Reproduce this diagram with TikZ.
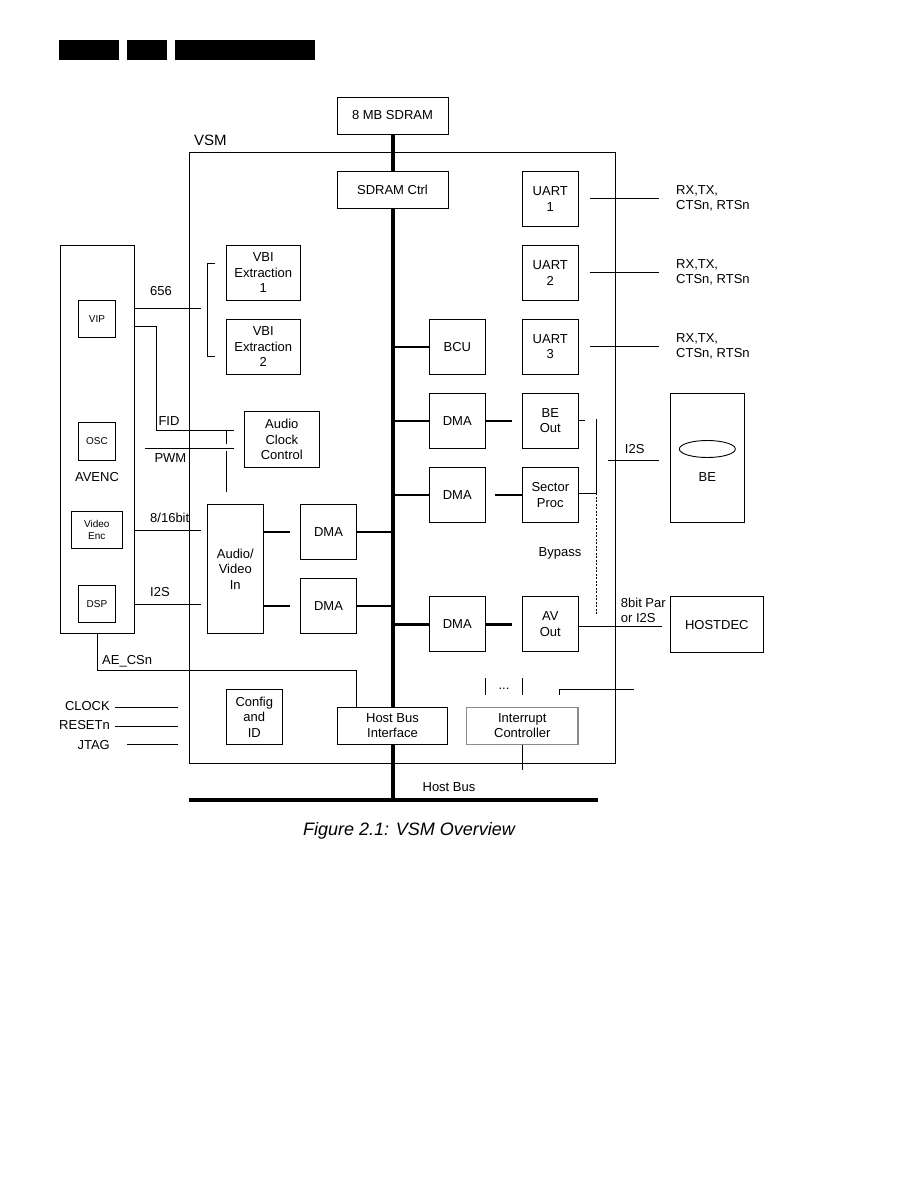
\documentclass[tikz,border=0pt]{standalone}
\usepackage{fontspec}
\setmainfont{Liberation Sans}
\usetikzlibrary{calc}
\newcommand\mainfs{\fontsize{13}{15.5}\selectfont}
\newcommand\smallfs{\fontsize{10}{12}\selectfont}
\begin{document}
\begin{tikzpicture}[x=1pt,y=-1pt,
  blk/.style={draw, line width=0.9pt, inner sep=0pt, align=center, font=\mainfs},
  sblk/.style={blk, font=\smallfs},
  lbl/.style={inner sep=0pt, align=left, font=\mainfs},
  wire/.style={line width=0.9pt},
  stub/.style={line width=2.5pt},
  bus/.style={line width=4pt, line cap=butt}]
\useasboundingbox (0,0) rectangle (918,1188);
% header bars
\fill (59,40) rectangle (119,59.7);
\fill (126.7,40) rectangle (166.7,59.7);
\fill (175,40) rectangle (315,59.7);
% VSM
\node[blk, minimum width=426, minimum height=611.3] (vsm) at (402.3,457.65) {};
\node[lbl, anchor=west, font=\fontsize{15}{18}\selectfont] (vsml) at (194,140) {VSM};
% boxes
\node[blk, minimum width=111, minimum height=37] (sdram) at (392.5,115.5) {8 MB SDRAM};
\node[blk, minimum width=111, minimum height=37] (sdctrl) at (392.5,189.5) {SDRAM Ctrl};
\node[blk, minimum width=56, minimum height=55] (uart1) at (550.3,198.8) {UART\\1};
\node[blk, minimum width=56, minimum height=55] (uart2) at (550.3,272.8) {UART\\2};
\node[blk, minimum width=56, minimum height=55] (uart3) at (550.3,346.8) {UART\\3};
\node[blk, minimum width=74, minimum height=55] (vbi1) at (263.3,272.8) {VBI\\Extraction\\1};
\node[blk, minimum width=74, minimum height=55] (vbi2) at (263.3,346.8) {VBI\\Extraction\\2};
\node[blk, minimum width=56, minimum height=55] (bcu) at (457.3,346.8) {BCU};
\node[blk, minimum width=74, minimum height=388] (avenc) at (97.7,439.3) {};
\node[sblk, minimum width=37.4, minimum height=37] (vip) at (97,318.8) {VIP};
\node[sblk, minimum width=37.4, minimum height=38] (osc) at (97,441.3) {OSC};
\node[font=\mainfs, inner sep=0pt] (avencl) at (97,477.3) {AVENC};
\node[sblk, minimum width=51, minimum height=37] (venc) at (96.8,529.8) {Video\\Enc};
\node[sblk, minimum width=37.4, minimum height=37.4] (dsp) at (97,604) {DSP};
\node[blk, minimum width=75, minimum height=55.6] (acc) at (281.8,439.5) {Audio\\Clock\\Control};
\node[blk, minimum width=56, minimum height=129] (avin) at (235.3,568.8) {Audio/\\Video\\In};
\node[blk, minimum width=56.4, minimum height=55] (dmal1) at (328.5,531.8) {DMA};
\node[blk, minimum width=56.4, minimum height=55] (dmal2) at (328.5,605.8) {DMA};
\node[blk, minimum width=56, minimum height=55] (dmar1) at (457.3,420.8) {DMA};
\node[blk, minimum width=56, minimum height=55] (beout) at (550.3,420.8) {BE\\Out};
\node[blk, minimum width=56, minimum height=55] (dmar2) at (457.3,494.8) {DMA};
\node[blk, minimum width=56, minimum height=55] (secproc) at (550.3,494.8) {Sector\\Proc};
\node[blk, minimum width=56, minimum height=55.4] (dmar3) at (457.3,624) {DMA};
\node[blk, minimum width=56, minimum height=55.4] (avout) at (550.3,624) {AV\\Out};
\node[blk, minimum width=74, minimum height=129] (be) at (707.3,457.8) {};
\draw[wire] (707.3,449) ellipse [x radius=28, y radius=8.5];
\node[font=\mainfs, inner sep=0pt] (bel) at (707.3,476.7) {BE};
\node[blk, minimum width=93, minimum height=56] (hostdec) at (716.8,624.7) {HOSTDEC};
\node[blk, minimum width=56, minimum height=55] (config) at (254.3,716.8) {Config\\and\\ID};
\node[blk, minimum width=110.6, minimum height=37] (hbi) at (392.5,725.8) {Host Bus\\Interface};
\node[blk, draw=black!45, line width=1.3pt, minimum width=111.3, minimum height=37] (intc) at (522.3,725.8) {Interrupt\\Controller};
% main bus
\coordinate (hbl) at (188.5,800);
\coordinate (hbr) at (597.6,800);
\draw[bus] (hbl) -- (hbr);
\draw[bus] (sdram.south) -- (sdctrl.north);
\draw[bus] (sdctrl.south) -- (hbi.north);
\draw[bus] (hbi.south) -- (hbi.south |- hbl);
\node[font=\mainfs, inner sep=0pt] (hbuslbl) at (449,786.7) {Host Bus};
% bus stubs
\draw[stub] (sdctrl.south |- bcu.west) -- (bcu.west);
\draw[stub] (sdctrl.south |- dmar1.west) -- (dmar1.west);
\draw[stub] (sdctrl.south |- dmar2.west) -- (dmar2.west);
\draw[stub, line width=3pt] (sdctrl.south |- dmar3.west) -- (dmar3.west);
\draw[stub] (dmal1.east) -- (dmal1.east -| sdctrl.south);
\draw[stub] (dmal2.east) -- (dmal2.east -| sdctrl.south);
\draw[stub, shorten >=9.6pt] (dmar1.east) -- (beout.west);
\draw[stub, shorten <=9.7pt] (dmar2.east) -- (secproc.west);
\draw[stub, line width=3pt, shorten >=9.6pt] (dmar3.east) -- (avout.west);
\draw[stub, shorten >=9.6pt] (avin.east |- dmal1.west) -- (dmal1.west);
\draw[stub, shorten >=9.6pt] (avin.east |- dmal2.west) -- (dmal2.west);
% UART lines
\draw[wire, shorten <=11pt] (uart1.east) -- ++(80,0) coordinate (u1e);
\draw[wire, shorten <=11pt] (uart2.east) -- ++(80,0) coordinate (u2e);
\draw[wire, shorten <=11pt] (uart3.east) -- ++(80,0) coordinate (u3e);
\node[lbl, anchor=west] (rx1) at (676,198.5) {RX,TX,\\CTSn, RTSn};
\node[lbl, anchor=west] (rx2) at (676,272.5) {RX,TX,\\CTSn, RTSn};
\node[lbl, anchor=west] (rx3) at (676,346.5) {RX,TX,\\CTSn, RTSn};
% VBI bracket and 656
\coordinate (b656) at (201,308.7);
\draw[wire] (avenc.east |- b656) -- (b656);
\draw[wire] (214.7,263.3) -- (207.3,263.3) -- (207.3,356.3) -- (214.7,356.3);
\node[lbl, anchor=west] (l656) at (150,290.7) {656};
% FID / PWM
\coordinate (fidc) at (234,430.7);
\coordinate (pwmc) at (234,448.3);
\draw[wire] (avenc.east |- 0,326.7) -- (156.3,326.7) |- (fidc);
\draw[wire] (145,448.3) -- (pwmc);
\draw[wire] (226.3,430.7) -- (226.3,444.3);
\draw[wire] (226.3,451) -- (226.3,492.3);
\node[lbl, anchor=west] (lfid) at (158.3,420.7) {FID};
\node[lbl, anchor=west] (lpwm) at (154.3,458) {PWM};
% 8/16bit, I2S
\draw[wire, shorten >=6pt] (avenc.east |- 0,530.7) -- (avin.west |- 0,530.7);
\draw[wire, shorten >=6pt] (avenc.east |- 0,604.3) -- (avin.west |- 0,604.3);
\node[lbl, anchor=west] (l816) at (150,517.7) {8/16bit};
\node[lbl, anchor=west] (li2s) at (150,592) {I2S};
% AE_CSn
\coordinate (aecs) at (356.5,670.7);
\draw[wire] (avenc.south) |- (aecs) -- (aecs |- hbi.north);
\node[lbl, anchor=west] (lae) at (102,661) {AE\_CSn};
% CLOCK / RESETn / JTAG
\node[lbl, anchor=east] (lclk) at (110,706) {CLOCK};
\node[lbl, anchor=east] (lrst) at (110,724.7) {RESETn};
\node[lbl, anchor=east] (ljtag) at (110,745) {JTAG};
\draw[wire] (115.4,707.7) -- (177.8,707.7);
\draw[wire] (115.4,726.3) -- (177.8,726.3);
\draw[wire] (127.3,744.3) -- (177.8,744.3);
% interrupt
\draw[wire] (intc.south) -- ++(0,25);
\draw[wire] (485.5,678.3) -- (485.5,695);
\draw[wire] (522.2,678.3) -- (522.2,695);
\node[font=\mainfs, inner sep=0pt] (dots) at (504,689) {...};
\draw[wire] (559.3,695) -- (559.3,689.3) -- (634,689.3);
% BE / bypass
\draw[wire] (beout.east) -- ++(6,0);
\draw[wire] (secproc.east |- 0,493.3) -- (596.3,493.3);
\draw[wire] (596.3,419) -- (596.3,493.3);
\draw[wire, dash pattern=on 2pt off 1.5pt] (596.3,493.3) -- (596.3,615);
\node[font=\mainfs, inner sep=0pt] (lbyp) at (560,553.3) {Bypass};
\draw[wire] (608.3,460.3) -- (658.7,460.3);
\node[lbl, anchor=west] (li2sb) at (624.7,449) {I2S};
% AV out to HOSTDEC
\draw[wire, shorten >=7.6pt] (avout.east |- 0,626.7) -- (hostdec.west |- 0,626.7);
\node[lbl, anchor=west] (l8bit) at (620.7,610.2) {8bit Par\\or I2S};
% caption
\node[font=\fontsize{18}{21}\selectfont\itshape, inner sep=0pt] (cap) at (409,830.7) {Figure 2.1: VSM Overview};
\end{tikzpicture}
\end{document}
